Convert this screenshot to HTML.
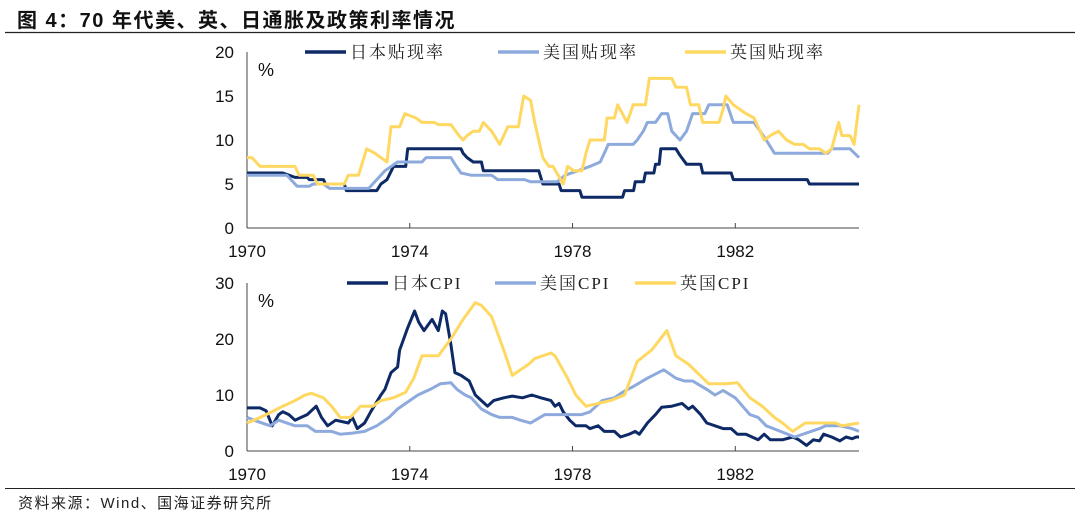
<!DOCTYPE html>
<html><head><meta charset="utf-8"><style>
html,body{margin:0;padding:0;background:#fff;}
body{width:1080px;height:523px;overflow:hidden;position:relative;font-family:"Liberation Sans","Noto Sans CJK SC",sans-serif;}
#title{position:absolute;left:17px;top:4px;font-size:20px;font-weight:bold;color:#111;letter-spacing:1.5px;}
#src{position:absolute;left:18px;top:492px;font-size:15px;color:#222;letter-spacing:1.5px;}
svg{position:absolute;left:0;top:0;}
</style></head><body>
<div id="title">图 4：70 年代美、英、日通胀及政策利率情况</div>
<div id="src">资料来源：Wind、国海证券研究所</div>
<svg id="chart" width="1080" height="523"></svg>
<script>
// ---- data (years, values) ----
const jpRateT=[1970,1970.88,1971.03,1971.18,1971.48,1971.53,1971.88,1971.93,1972.39,1972.44,1973.19,1973.29,1973.44,1973.6,1973.9,1973.95,1975.26,1975.31,1975.41,1975.56,1975.76,1975.81,1977.17,1977.27,1977.67,1977.72,1978.18,1978.23,1979.23,1979.28,1979.5,1979.54,1979.75,1979.79,1980.0,1980.04,1980.13,1980.17,1980.54,1980.64,1980.8,1981.15,1981.2,1981.9,1981.95,1983.77,1983.82,1985.04];
const jpRateV=[6.25,6.25,6,5.75,5.75,5.5,5.5,5,5,4.25,4.25,5,5.5,7,7,9,9,8.5,8,7.5,7.5,6.5,6.5,5,5,4.25,4.25,3.5,3.5,4.25,4.25,5.25,5.25,6.25,6.25,7.25,7.25,9,9,8.25,7.25,7.25,6.25,6.25,5.5,5.5,5,5];
const usRateT=[1970,1970.98,1971.08,1971.23,1971.53,1971.63,1971.88,1972.03,1972.99,1973.19,1973.39,1973.7,1974.3,1974.4,1975.01,1975.11,1975.26,1975.51,1976.01,1976.16,1976.82,1976.97,1977.62,1977.82,1978.13,1978.43,1978.68,1978.78,1978.88,1979.49,1979.59,1979.74,1979.84,1980.04,1980.19,1980.34,1980.44,1980.64,1980.8,1980.95,1981.25,1981.35,1981.8,1981.95,1982.46,1982.76,1982.96,1984.27,1984.37,1984.82,1985.04];
const usRateV=[6,6,5.5,4.75,4.75,5,5,4.5,4.5,5.5,6.5,7.5,7.5,8,8,7.25,6.25,6,6,5.5,5.5,5.25,5.25,6,6.5,7,7.5,8.5,9.5,9.5,10,11,12,12,13,13,11,10,11,13,13,14,14,12,12,10,8.5,8.5,9,9,8];
const ukRateT=[1970,1970.12,1970.32,1971.18,1971.28,1971.63,1971.73,1972.39,1972.49,1972.74,1972.84,1972.94,1973.14,1973.29,1973.44,1973.54,1973.75,1973.88,1974.15,1974.3,1974.6,1974.7,1975.01,1975.21,1975.31,1975.41,1975.56,1975.71,1975.81,1976.01,1976.21,1976.41,1976.67,1976.8,1976.97,1977.07,1977.27,1977.42,1977.52,1977.77,1977.88,1978.03,1978.23,1978.33,1978.43,1978.78,1978.85,1979.03,1979.11,1979.34,1979.49,1979.79,1979.89,1980.44,1980.54,1980.8,1980.9,1981.1,1981.2,1981.6,1981.7,1981.77,1981.95,1982.26,1982.46,1982.71,1982.86,1983.06,1983.26,1983.46,1983.67,1983.82,1984.07,1984.22,1984.37,1984.54,1984.62,1984.82,1984.92,1985.04];
const ukRateV=[8,8,7,7,6,6,5,5,6,6,7.5,9,8.5,8,7.5,11.5,11.5,13,12.5,12,12,11.75,11.75,10.5,10,10.5,11,11,12,11,9.5,11.5,11.5,15,14.5,12,8,7,7,5,7,6.5,6.5,8.5,10,10,12.5,12.5,14,12,14,14,17,17,16,16,14,14,12,12,13.5,15,14,13,12.5,10,10.5,11,10,9.5,9.5,9,9,8.5,9,12,10.5,10.5,9.5,14];

const jpCpiT=[1970,1970.32,1970.47,1970.62,1970.78,1970.88,1971.03,1971.18,1971.33,1971.48,1971.7,1971.83,1971.98,1972.18,1972.49,1972.59,1972.71,1972.89,1973.04,1973.29,1973.39,1973.54,1973.7,1973.75,1973.95,1974.12,1974.22,1974.35,1974.55,1974.7,1974.8,1974.88,1975.01,1975.11,1975.26,1975.46,1975.61,1975.76,1975.91,1976.06,1976.31,1976.52,1976.77,1977,1977.22,1977.47,1977.57,1977.67,1977.77,1977.93,1978.08,1978.33,1978.43,1978.63,1978.78,1979.03,1979.18,1979.39,1979.54,1979.64,1979.84,1980.04,1980.19,1980.44,1980.69,1980.85,1980.95,1981.15,1981.3,1981.5,1981.7,1981.9,1982.05,1982.26,1982.56,1982.71,1982.86,1983.16,1983.41,1983.56,1983.75,1983.92,1984.07,1984.17,1984.37,1984.57,1984.72,1984.87,1984.97,1985.04];
const jpCpiV=[7.7,7.7,7.2,4.5,6.5,7,6.5,5.5,6,6.5,8,6,4.5,5.5,5,6,4,5,7,10,11,14,15,18,22,25,23,21.5,23.5,21.5,25,24.5,19,14,13.5,12.5,10,9,8,9,9.5,9.8,9.5,10,9.5,9,8,8.5,7,5.5,4.5,4.5,4,4.5,3.5,3.5,2.5,3,3.5,3,5,6.5,7.8,8,8.5,7.5,8,6.5,5,4.5,4,4,3,3,2,3,2,2,2.5,2,1,2,1.8,3,2.5,1.8,2.5,2.2,2.5,2.5];
const usCpiT=[1970,1970.17,1970.57,1970.78,1971.18,1971.48,1971.68,1972.08,1972.29,1972.59,1972.89,1973.19,1973.49,1973.7,1973.9,1974.2,1974.5,1974.75,1975.01,1975.16,1975.36,1975.51,1975.76,1976.01,1976.21,1976.52,1976.72,1976.97,1977.32,1977.62,1977.93,1978.23,1978.43,1978.73,1979.03,1979.23,1979.49,1979.84,1980.24,1980.54,1980.75,1980.95,1981.3,1981.5,1981.7,1982,1982.36,1982.56,1982.76,1983.11,1983.46,1984.07,1984.22,1984.57,1984.87,1985.04];
const usCpiV=[6,5.5,4.5,5.5,4.5,4.5,3.5,3.5,3,3.2,3.5,4.5,6,7.5,8.5,10,11,12,12.2,11,10,9.5,7.5,6.5,6,6,5.5,5,6.5,6.5,6.5,6.5,7,9,9.5,10.5,11.5,13,14.5,13,12.5,12.5,11,10,10.8,9.5,6.5,6,4.5,3.5,2.5,4,4.5,4.5,4,3.5];
const ukCpiT=[1970,1970.17,1970.47,1970.88,1971.18,1971.43,1971.58,1971.88,1972.08,1972.29,1972.54,1972.79,1973.09,1973.29,1973.6,1973.9,1974.1,1974.3,1974.7,1975.01,1975.31,1975.61,1975.76,1976.01,1976.31,1976.52,1976.72,1976.92,1977.07,1977.47,1977.57,1977.88,1978.08,1978.33,1978.63,1978.93,1979.28,1979.59,1979.94,1980.32,1980.54,1980.85,1981.35,1981.75,1982.05,1982.36,1982.66,1982.96,1983.16,1983.41,1983.72,1984.17,1984.47,1984.62,1984.87,1985.04];
const ukCpiV=[5,5.5,6.5,8,9,10,10.3,9.5,8,6,6,8,8,9,9.5,10.5,13,17,17,20,23.5,26.5,26,24,18,13.5,14.5,15.5,16.5,17.5,17,13,10,8,8.5,9,10,16,18,21.5,17,15.5,12,12,12.2,9.5,8,6,5,3.5,5,5,5,4.5,4.8,5];

const xTicks=[1970,1974,1978,1982];
const rateTicks=[0,5,10,15,20];
const cpiTicks=[0,10,20,30];
const rateLegend=['日本贴现率','美国贴现率','英国贴现率'];
const cpiLegend=['日本CPI','美国CPI','英国CPI'];

const svg=document.getElementById('chart');
const NS='http://www.w3.org/2000/svg';
const colors=['#0e2a66','#8eaadd','#ffd862'];
const names=['japan','us','uk'];
const X0=247,X1=859,T0=1970,T1=1985.04;
const xs=t=>X0+(t-T0)/(T1-T0)*(X1-X0);
function mk(tag,attrs){const e=document.createElementNS(NS,tag);for(const k in attrs)e.setAttribute(k,attrs[k]);svg.appendChild(e);return e;}
let e=mk('line',{x1:5,x2:1075,y1:32.5,y2:32.5,stroke:'#222','stroke-width':1.3});


e=mk('line',{x1:5,x2:1075,y1:488.5,y2:488.5,stroke:'#222','stroke-width':1});



function panel(id,yBottom,yTop,vmax,ticks,series,legend,legX,legY){
  const ys=v=>yBottom-(v/vmax)*(yBottom-yTop);
  let a=mk('line',{x1:X0,x2:X0,y1:yTop,y2:yBottom,stroke:'#444','stroke-width':1});
  
  
  a=mk('line',{x1:X0,x2:X1,y1:yBottom,y2:yBottom,stroke:'#444','stroke-width':1});
  
  
  ticks.forEach(v=>{
    const t=mk('text',{x:X0-13,y:ys(v)+6,'text-anchor':'end','font-size':17,fill:'#111','font-family':'Liberation Sans,sans-serif'});
    t.textContent=v;
    
    
  });
  xTicks.forEach((y,i)=>{
    if(i>0){const l=mk('line',{x1:xs(y),x2:xs(y),y1:yBottom,y2:yBottom-5,stroke:'#444'});
      
      }
    const t=mk('text',{x:xs(y),y:yBottom+29,'text-anchor':'middle','font-size':17,fill:'#111','font-family':'Liberation Sans,sans-serif'});
    t.textContent=y;
    
    
  });
  const p=mk('text',{x:X0+11,y:yTop+24,'font-size':18,fill:'#111','font-family':'Liberation Sans,sans-serif'});
  p.textContent='%';
  
  
  series.forEach((s,i)=>{
    const d=s[0].map((t,j)=>(j?'L':'M')+xs(t).toFixed(1)+','+ys(s[1][j]).toFixed(1)).join('');
    const l=mk('path',{d:d,fill:'none',stroke:colors[i],'stroke-width':3,'stroke-linejoin':'round'});
    
    
  });
  legend.forEach((txt,i)=>{
    const x=legX[i];
    const l=mk('line',{x1:x,x2:x+41,y1:legY,y2:legY,stroke:colors[i],'stroke-width':3.5});
    
    
    const t=mk('text',{x:x+45,y:legY+6,'font-size':17,fill:'#222','letter-spacing':'2','font-family':'Liberation Serif,Noto Serif CJK SC,serif'});
    t.textContent=txt;
    
    
  });
}
panel('rate-chart',228,52,20,rateTicks,[[jpRateT,jpRateV],[usRateT,usRateV],[ukRateT,ukRateV]],rateLegend,[305,498,685],52);
panel('cpi-chart',451,283,30,cpiTicks,[[jpCpiT,jpCpiV],[usCpiT,usCpiV],[ukCpiT,ukCpiV]],cpiLegend,[347,495,635],283);
</script>
</body></html>
